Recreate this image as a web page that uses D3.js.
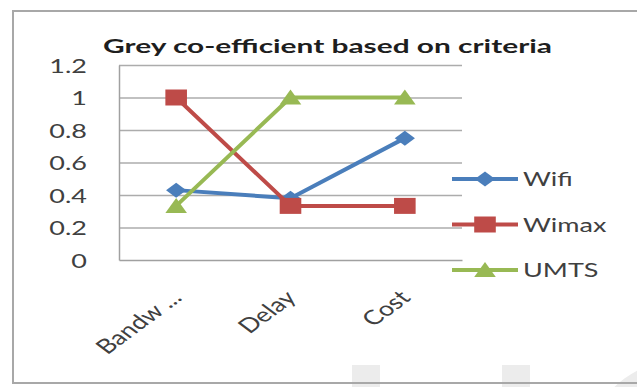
<!DOCTYPE html>
<html>
<head>
<meta charset="utf-8">
<script src="https://cdn.jsdelivr.net/npm/d3@7"></script>
<style>
  html, body { margin: 0; padding: 0; background: #fff; }
  svg { display: block; font-family: Lato, "Open Sans", sans-serif; }
</style>
</head>
<body>
<svg id="chart" width="637" height="387"></svg>
<script>
// ---- data ----
const categories = ["Bandw ...", "Delay", "Cost"];
const seriesNames = ["Wifi", "Wimax", "UMTS"];
const wifiValues  = [0.43, 0.38, 0.75];
const wimaxValues = [1.0, 0.333, 0.333];
const umtsValues  = [0.333, 1.0, 1.0];
const yTickValues = [0, 0.2, 0.4, 0.6, 0.8, 1, 1.2];
const titleText = "Grey co-efficient based on criteria";

const seriesColors = ["#4A7EBB", "#BE4B48", "#98B954"];
const seriesMarkers = ["diamond", "square", "triangle"];
const series = seriesNames.map((name, i) => ({
  name,
  values: [wifiValues, wimaxValues, umtsValues][i],
  color: seriesColors[i],
  marker: seriesMarkers[i]
}));

// ---- layout ----
const W = 637, H = 387;
const sx = 1.35;                 // horizontal stretch of the whole figure
const plot = { left: 119, right: 462, top: 65, bottom: 260 };

const svg = d3.select("#chart");

// faint background shapes
const bg = svg.append("g").attr("fill", "#ececec");
bg.append("rect").attr("x", 352).attr("y", 365).attr("width", 28).attr("height", 30);
bg.append("rect").attr("x", 502).attr("y", 365).attr("width", 28).attr("height", 30);
bg.append("ellipse").attr("cx", 680).attr("cy", 470).attr("rx", 100).attr("ry", 110);

// outer frame (runs off the right edge)
svg.append("path")
  .attr("d", `M${W + 5},11 H13 V383 H${W + 5}`)
  .attr("fill", "none").attr("stroke", "#a8a8a8").attr("stroke-width", 2);

// stray glyph from surrounding page text
svg.append("text").attr("x", 616).attr("y", -3)
  .attr("font-size", 20).attr("fill", "#222").text("g");

// ---- scales ----
const x = d3.scaleBand().domain(categories).range([plot.left, plot.right]);
const y = d3.scaleLinear().domain([0, 1.2]).range([plot.bottom, plot.top]);
const cx = c => x(c) + x.bandwidth() / 2;

// gridlines
const grid = svg.append("g").attr("transform", `translate(${plot.left},0)`)
  .call(d3.axisLeft(y).tickValues(yTickValues.filter(v => v > 0))
    .tickSize(-(plot.right - plot.left)).tickFormat(""));
grid.select(".domain").remove();
grid.selectAll("line").attr("stroke", "#acacac").attr("stroke-width", 1.5);

// y axis
const yAxis = svg.append("g").attr("transform", `translate(${plot.left},0)`)
  .call(d3.axisLeft(y).tickValues(yTickValues).tickSize(0).tickPadding(32)
    .tickFormat(d3.format("~g")));
yAxis.select(".domain").attr("stroke", "#a0a0a0").attr("stroke-width", 1.5);
yAxis.selectAll("text")
  .attr("font-size", 20).attr("fill", "#404040")
  .attr("font-family", "Lato, sans-serif")
  .attr("x", -32 / sx).attr("dy", "0.36em")
  .attr("transform", `scale(${sx},1)`);

// x axis
const xAxis = svg.append("g").attr("transform", `translate(0,${plot.bottom})`)
  .call(d3.axisBottom(x).tickSize(0));
xAxis.select(".domain").attr("stroke", "#a0a0a0").attr("stroke-width", 1.5);
xAxis.selectAll("text")
  .attr("font-size", 20).attr("fill", "#404040")
  .attr("font-family", "Lato, sans-serif")
  .attr("y", null).attr("dy", null)
  .attr("text-anchor", "end")
  .attr("transform", `translate(7,39) scale(${sx},1) rotate(-45)`);

// title
svg.append("text")
  .attr("transform", `translate(103,53) scale(${sx},1)`)
  .attr("font-size", 19).attr("font-weight", "bold").attr("fill", "#1e1e1e")
  .attr("textLength", 449 / sx).attr("lengthAdjust", "spacingAndGlyphs")
  .text(titleText);

// ---- markers ----
function markerPath(kind) {
  if (kind === "diamond") return "M0,-7.5L7.5,0L0,7.5L-7.5,0Z";
  if (kind === "square") return "M-8,-8H8V8H-8Z";
  return "M0,-8L8,7H-8Z";
}

// ---- series lines ----
const line = d3.line().x((d, i) => cx(categories[i])).y(d => y(d));
const seriesG = svg.append("g");
series.forEach(s => {
  const g = seriesG.append("g");
  g.append("path").datum(s.values)
    .attr("d", line).attr("fill", "none")
    .attr("stroke", s.color).attr("stroke-width", 4)
    .attr("stroke-linejoin", "round");
  g.selectAll("path.mk").data(s.values).join("path")
    .attr("class", "mk")
    .attr("d", markerPath(s.marker))
    .attr("fill", s.color)
    .attr("transform", (d, i) => `translate(${cx(categories[i])},${y(d)}) scale(${sx},1)`);
});

// ---- legend ----
const legendY = d3.scalePoint().domain(seriesNames).range([179, 270]);
const legend = svg.append("g");
series.forEach(s => {
  const ly = legendY(s.name);
  legend.append("line").attr("x1", 452).attr("x2", 518).attr("y1", ly).attr("y2", ly)
    .attr("stroke", s.color).attr("stroke-width", 4);
  legend.append("path").attr("d", markerPath(s.marker)).attr("fill", s.color)
    .attr("transform", `translate(485,${ly}) scale(${sx},1)`);
  legend.append("text")
    .attr("transform", `translate(523,${ly}) scale(${sx},1)`)
    .attr("dy", "0.36em").attr("font-size", 20).attr("fill", "#404040")
    .text(s.name);
});
</script>
</body>
</html>
